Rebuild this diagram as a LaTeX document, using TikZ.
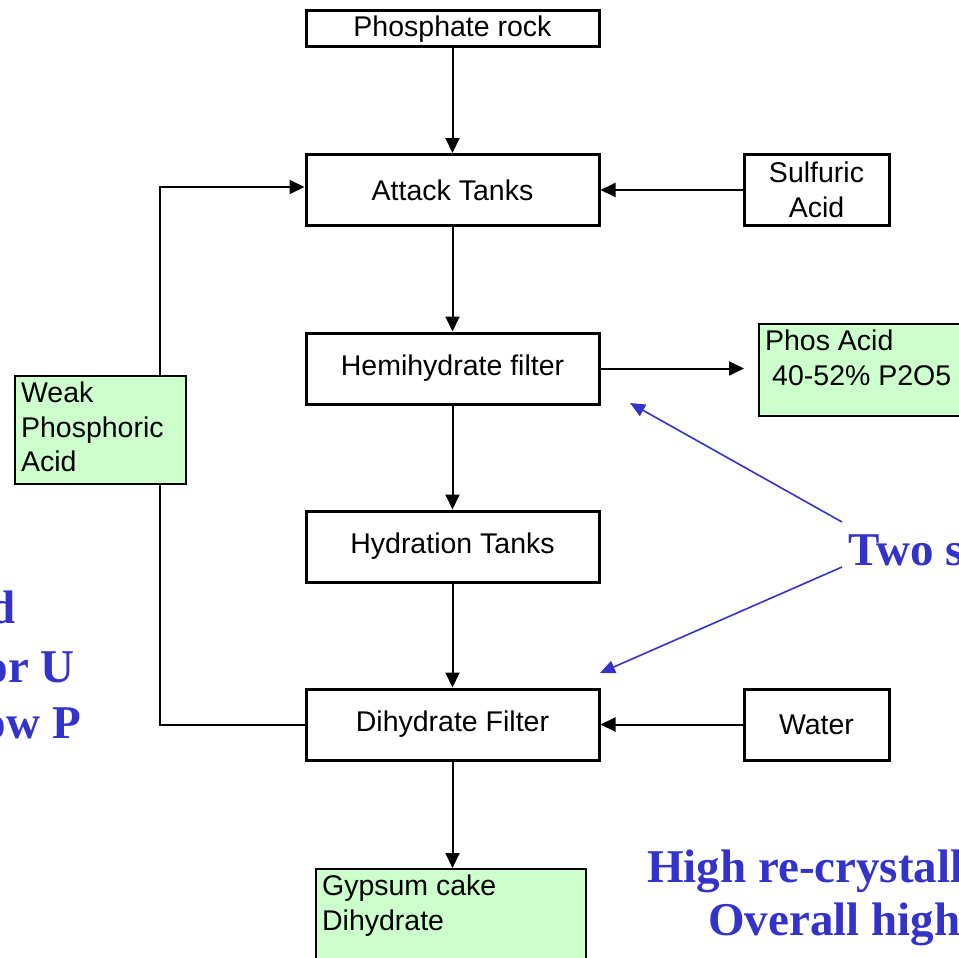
\documentclass[tikz,border=0pt]{standalone}
\usepackage{fontspec}
\setmainfont{Liberation Sans}
\newfontfamily\slidefont{Liberation Serif}
\usetikzlibrary{arrows.meta, positioning}
\definecolor{greenfill}{RGB}{204,255,204}
\definecolor{noteblue}{RGB}{51,51,204}
\tikzset{
  procbox/.style={draw, line width=3pt, minimum width=293pt, minimum height=71pt,
    inner sep=0pt, align=center, font=\fontsize{28.5}{34.5}\selectfont},
  sidebox/.style={procbox, minimum width=145pt},
  greenbox/.style={draw, line width=2.2pt, fill=greenfill, inner sep=6pt, anchor=north west,
    font=\fontsize{28.5}{34.5}\selectfont},
  flow/.style={-{Triangle[length=15pt,width=14pt]}, line width=2pt},
  note/.style={text=noteblue, inner sep=0pt, font=\slidefont\bfseries\fontsize{47}{57}\selectfont},
  notearrow/.style={draw=noteblue, line width=1.6pt, -{Triangle[length=15pt,width=13pt]}}
}
\newcommand{\topbox}[3]{\parbox[t][#1][t]{#2}{#3}}
\begin{document}
\begin{tikzpicture}[x=1pt, y=-1pt]
  \useasboundingbox (0,0) rectangle (959,958);
  \clip (0,0) rectangle (959,958);

  % process column
  \node[procbox, minimum height=36pt] (rock) at (452.5,29) {Phosphate rock};
  \node[procbox] (attack) at (452.5,190) {Attack Tanks};
  \node[procbox] (hemi) at (452.5,368.5) {Hemihydrate filter};
  \node[procbox] (hydra) at (452.5,546.5) {Hydration Tanks};
  \node[procbox] (dihy) at (452.5,724.5) {Dihydrate Filter};

  % feeds
  \node[sidebox] (sulfuric) at (816.5,190) {Sulfuric\\Acid};
  \node[sidebox] (water) at (816.5,724.5) {Water};

  % products
  \node[greenbox] (phos) at (758,323) {\topbox{80pt}{210pt}{Phos Acid\\\hspace*{0.25em}40-52\% P2O5}};
  \node[greenbox] (weak) at (14,375) {\topbox{96pt}{159pt}{Weak\\Phosphoric\\Acid}};
  \node[greenbox] (gypsum) at (315,868) {\topbox{98pt}{258pt}{Gypsum cake\\Dihydrate}};

  % flows
  \draw[flow] (rock) -- (attack);
  \draw[flow] (sulfuric) -- (attack);
  \draw[flow] (attack) -- (hemi);
  \draw[flow, shorten >=14pt] (hemi.east) -- (hemi.east -| phos.west);
  \draw[flow] (hemi) -- (hydra);
  \draw[flow] (hydra) -- (dihy);
  \draw[flow] (water) -- (dihy);
  \draw[flow] (dihy) -- (dihy |- gypsum.north);

  % recycle loop through the weak acid box
  \coordinate (loop) at (160,0);
  \draw[line width=2pt] (dihy.west) -| (weak.south -| loop);
  \draw[flow] (weak.north -| loop) |- ([yshift=3pt]attack.west);

  % notes
  \node[note, anchor=base west] (two) at (848,565) {Two s};
  \node[note, anchor=base west] (high) at (647,882) {High re-crystall};
  \node[note, anchor=base west] (overall) at (708,935) {Overall high};
  \node[note, anchor=base east] (leftA) at (16,623) {d};
  \node[note, anchor=base east] (leftB) at (75,682) {or U};
  \node[note, anchor=base east] (leftC) at (81,738) {ow P};

  \coordinate (twoup) at (842,522);
  \coordinate (twodown) at (842,567);
  \coordinate (hemitip) at (630,403);
  \coordinate (dihytip) at (600,673);
  \draw[notearrow] (twoup) -- (hemitip);
  \draw[notearrow] (twodown) -- (dihytip);
\end{tikzpicture}
\end{document}
